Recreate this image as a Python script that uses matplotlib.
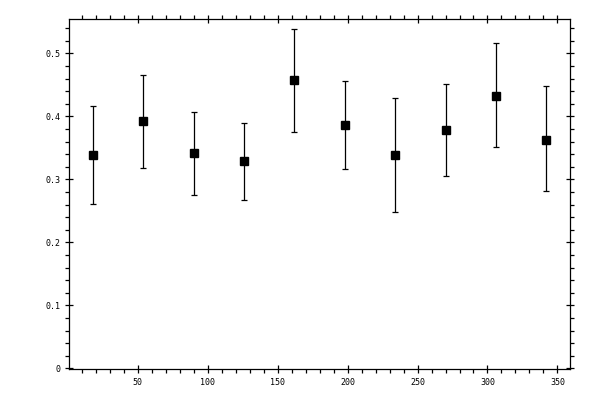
import matplotlib
matplotlib.use("Agg")
import matplotlib.pyplot as plt
import numpy as np
from matplotlib.ticker import MultipleLocator

# bin centres (deg) and measured values with asymmetric errors
angle = [18, 54, 90, 126, 162, 198, 234, 270, 306, 342]
value = [0.338, 0.392, 0.341, 0.329, 0.457, 0.386, 0.338, 0.379, 0.433, 0.363]
upper = [0.417, 0.465, 0.407, 0.390, 0.538, 0.456, 0.429, 0.452, 0.516, 0.448]
lower = [0.261, 0.318, 0.275, 0.267, 0.375, 0.316, 0.248, 0.306, 0.352, 0.281]

x = np.array(angle, float)
y = np.array(value)
yerr = np.array([y - np.array(lower), np.array(upper) - y])

fig = plt.figure(figsize=(6, 4), dpi=100)
ax = fig.add_axes([0.1155, 0.0768, 0.8345, 0.8750])

ax.errorbar(x, y, yerr=yerr, fmt='s', color='black', ms=5.1,
            elinewidth=0.9, capsize=2.2, capthick=0.9)

ax.set_xlim(1, 359)
ax.set_ylim(-0.0015, 0.554)

ax.xaxis.set_major_locator(MultipleLocator(50))
ax.xaxis.set_minor_locator(MultipleLocator(10))
ax.yaxis.set_major_locator(MultipleLocator(0.1))
ax.yaxis.set_minor_locator(MultipleLocator(0.02))
ax.yaxis.set_major_formatter(plt.FuncFormatter(lambda v, p: '0' if abs(v) < 1e-9 else '%g' % v))

for s in ax.spines.values():
    s.set_linewidth(0.9)

ax.tick_params(which='major', direction='inout', length=6, width=0.9,
               top=True, right=True, labelsize=6, pad=3)
ax.tick_params(which='minor', direction='out', length=3, width=0.9,
               top=True, right=True)
for lab in ax.get_xticklabels() + ax.get_yticklabels():
    lab.set_family('DejaVu Sans Mono')

fig.savefig('out.png', dpi=100)
